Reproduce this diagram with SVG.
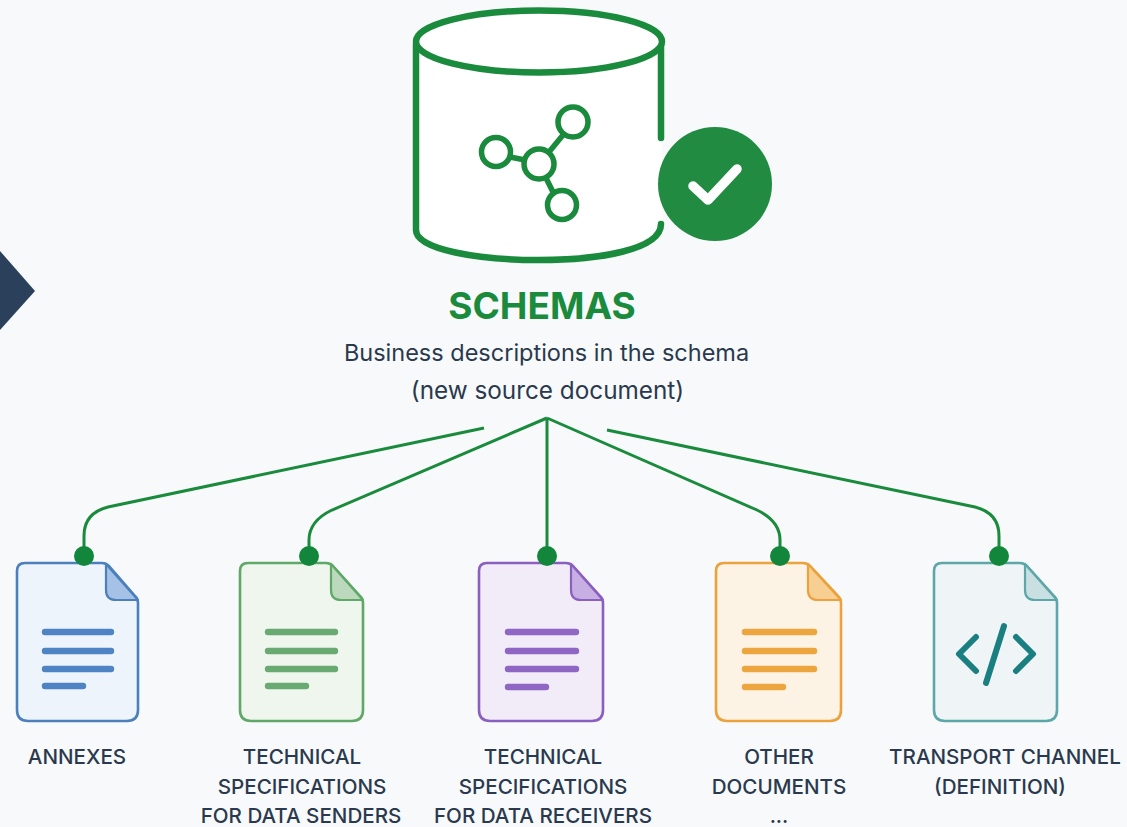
<svg xmlns="http://www.w3.org/2000/svg" width="1127" height="827" viewBox="0 0 1127 827">
<style>
text{font-family:"Inter","Liberation Sans",sans-serif;fill:#2a394d;text-anchor:middle}
.lb{font-size:20.6px;font-weight:500}
.cyl{fill:none;stroke:#1a8a3c;stroke-width:6.5;stroke-linecap:round}
.cn{fill:none;stroke:#1a8a3c;stroke-width:3}
.d{fill:#12863a}
.doc{stroke-width:2.6;stroke-linejoin:round}
.fold{stroke-width:2.2;stroke-linejoin:round}
.ln{fill:none;stroke-width:6.4;stroke-linecap:round}
</style>
<rect width="1127" height="827" fill="#f7f9fb"/>
<path d="M0 251L35 291L0 330Z" fill="#2a405b"/>
<g id="schemas">
<path d="M416 44V230C416 250 480 261 539 261C598 261 662 250 662 230V44Z" fill="#fff"/>
<path class="cyl" d="M416 44V230C416 250 480 260 539 260C598 260 661 250 661 224M661 138V44"/>
<ellipse class="cyl" cx="539" cy="41.500" rx="123" ry="31" style="fill:#fff"/>
<g fill="none" stroke="#1a8a3c" stroke-width="5.500">
<circle cx="496" cy="152" r="14.500"/><circle cx="539" cy="164" r="15"/><circle cx="573" cy="122" r="15"/><circle cx="562" cy="205" r="14.500"/>
<path d="M510 157L525 160M549 152L563 135M546 178L553 192"/>
</g>
<circle cx="715" cy="184" r="57" fill="#218c41"/>
<path d="M693 186L708 200L737 169" fill="none" stroke="#fff" stroke-width="9.500" stroke-linecap="round" stroke-linejoin="round"/>
<text x="542" y="319" font-size="37" font-weight="700" style="fill:#1a8a3c">SCHEMAS</text>
<text x="546.500" y="361" font-size="23.500">Business descriptions in the schema</text>
<text x="547.500" y="399" font-size="24.300">(new source document)</text>
</g>
<g id="connectors">
<path class="cn" d="M484 428L108 507Q84 513 84 536V557"/>
<path class="cn" d="M547 418L332 510Q309 521 309 540V557"/>
<path class="cn" d="M547 418V557"/>
<path class="cn" d="M547 418L757 510Q780 521 780 540V557"/>
<path class="cn" d="M607 430L975 507Q999 513 999 536V557"/>
</g>
<g id="annexes">
<path class="doc" fill="#eef4fc" stroke="#4b80bd" d="M25 563H102Q106 563 109 566L135 596Q138 599 138 603V710Q138 721 127 721H28Q17 721 17 710V571Q17 563 25 563Z"/>
<path class="fold" d="M106 564V590Q106 600 116 600H138Z" fill="#a5c2e6" stroke="#4b80bd"/>
<path class="ln" stroke="#4f84c4" d="M45 632H111M45 651H111M45 669H111M45 686H83"/>
<circle class="d" cx="84" cy="556" r="10"/>
<text class="lb" x="77" y="763.500">ANNEXES</text>
</g>
<g id="tech-senders">
<path class="doc" fill="#eff6ee" stroke="#5fa868" d="M248 563H326Q330 563 333 566L360 596Q363 599 363 603V710Q363 721 352 721H251Q240 721 240 710V571Q240 563 248 563Z"/>
<path class="fold" d="M331 564V590Q331 600 341 600H363Z" fill="#bcd8bd" stroke="#5fa868"/>
<path class="ln" stroke="#68aa72" d="M268 632H335M268 651H335M268 669H335M268 686H306"/>
<circle class="d" cx="309" cy="556" r="10"/>
<text class="lb" x="302" y="763.500">TECHNICAL</text>
<text class="lb" x="302" y="793.500">SPECIFICATIONS</text>
<text class="lb" x="301" y="822.500">FOR DATA SENDERS</text>
</g>
<g id="tech-receivers">
<path class="doc" fill="#f2ecf8" stroke="#8a5fc0" d="M487 563H566Q570 563 573 566L600 596Q603 599 603 603V710Q603 721 592 721H490Q479 721 479 710V571Q479 563 487 563Z"/>
<path class="fold" d="M571 564V590Q571 600 581 600H603Z" fill="#c7aee3" stroke="#8a5fc0"/>
<path class="ln" stroke="#8f66c4" d="M508 632H576M508 651H576M508 669H576M508 687H546"/>
<circle class="d" cx="547" cy="556" r="10"/>
<text class="lb" x="543" y="763.500">TECHNICAL</text>
<text class="lb" x="543" y="793.500">SPECIFICATIONS</text>
<text class="lb" x="543" y="822.500">FOR DATA RECEIVERS</text>
</g>
<g id="other-documents">
<path class="doc" fill="#fdf3e5" stroke="#eba13c" d="M724 563H803Q807 563 810 566L838 596Q841 599 841 603V710Q841 721 830 721H727Q716 721 716 710V571Q716 563 724 563Z"/>
<path class="fold" d="M808 564V590Q808 600 818 600H841Z" fill="#f8cf92" stroke="#eba13c"/>
<path class="ln" stroke="#eda53f" d="M745 632H814M745 651H814M745 669H814M745 687H783"/>
<circle class="d" cx="780" cy="556" r="10"/>
<text class="lb" x="779" y="763.500">OTHER</text>
<text class="lb" x="779" y="793.500">DOCUMENTS</text>
<text class="lb" x="779" y="822.500">...</text>
</g>
<g id="transport-channel">
<path class="doc" fill="#eff5f6" stroke="#5ea7a9" d="M942 563H1020Q1024 563 1027 566L1054 596Q1057 599 1057 603V710Q1057 721 1046 721H945Q934 721 934 710V571Q934 563 942 563Z"/>
<path class="fold" d="M1025 564V590Q1025 600 1035 600H1057Z" fill="#c9dfe1" stroke="#5ea7a9"/>
<path fill="none" stroke="#1a7f80" stroke-width="6" stroke-linecap="round" stroke-linejoin="round" d="M976 637L959 654L976 671M1016 637L1033 654L1016 671M1004 626L986 683"/>
<circle class="d" cx="999" cy="556" r="10"/>
<text class="lb" x="1005" y="763.500">TRANSPORT CHANNEL</text>
<text class="lb" x="1000" y="793.500">(DEFINITION)</text>
</g>
</svg>
